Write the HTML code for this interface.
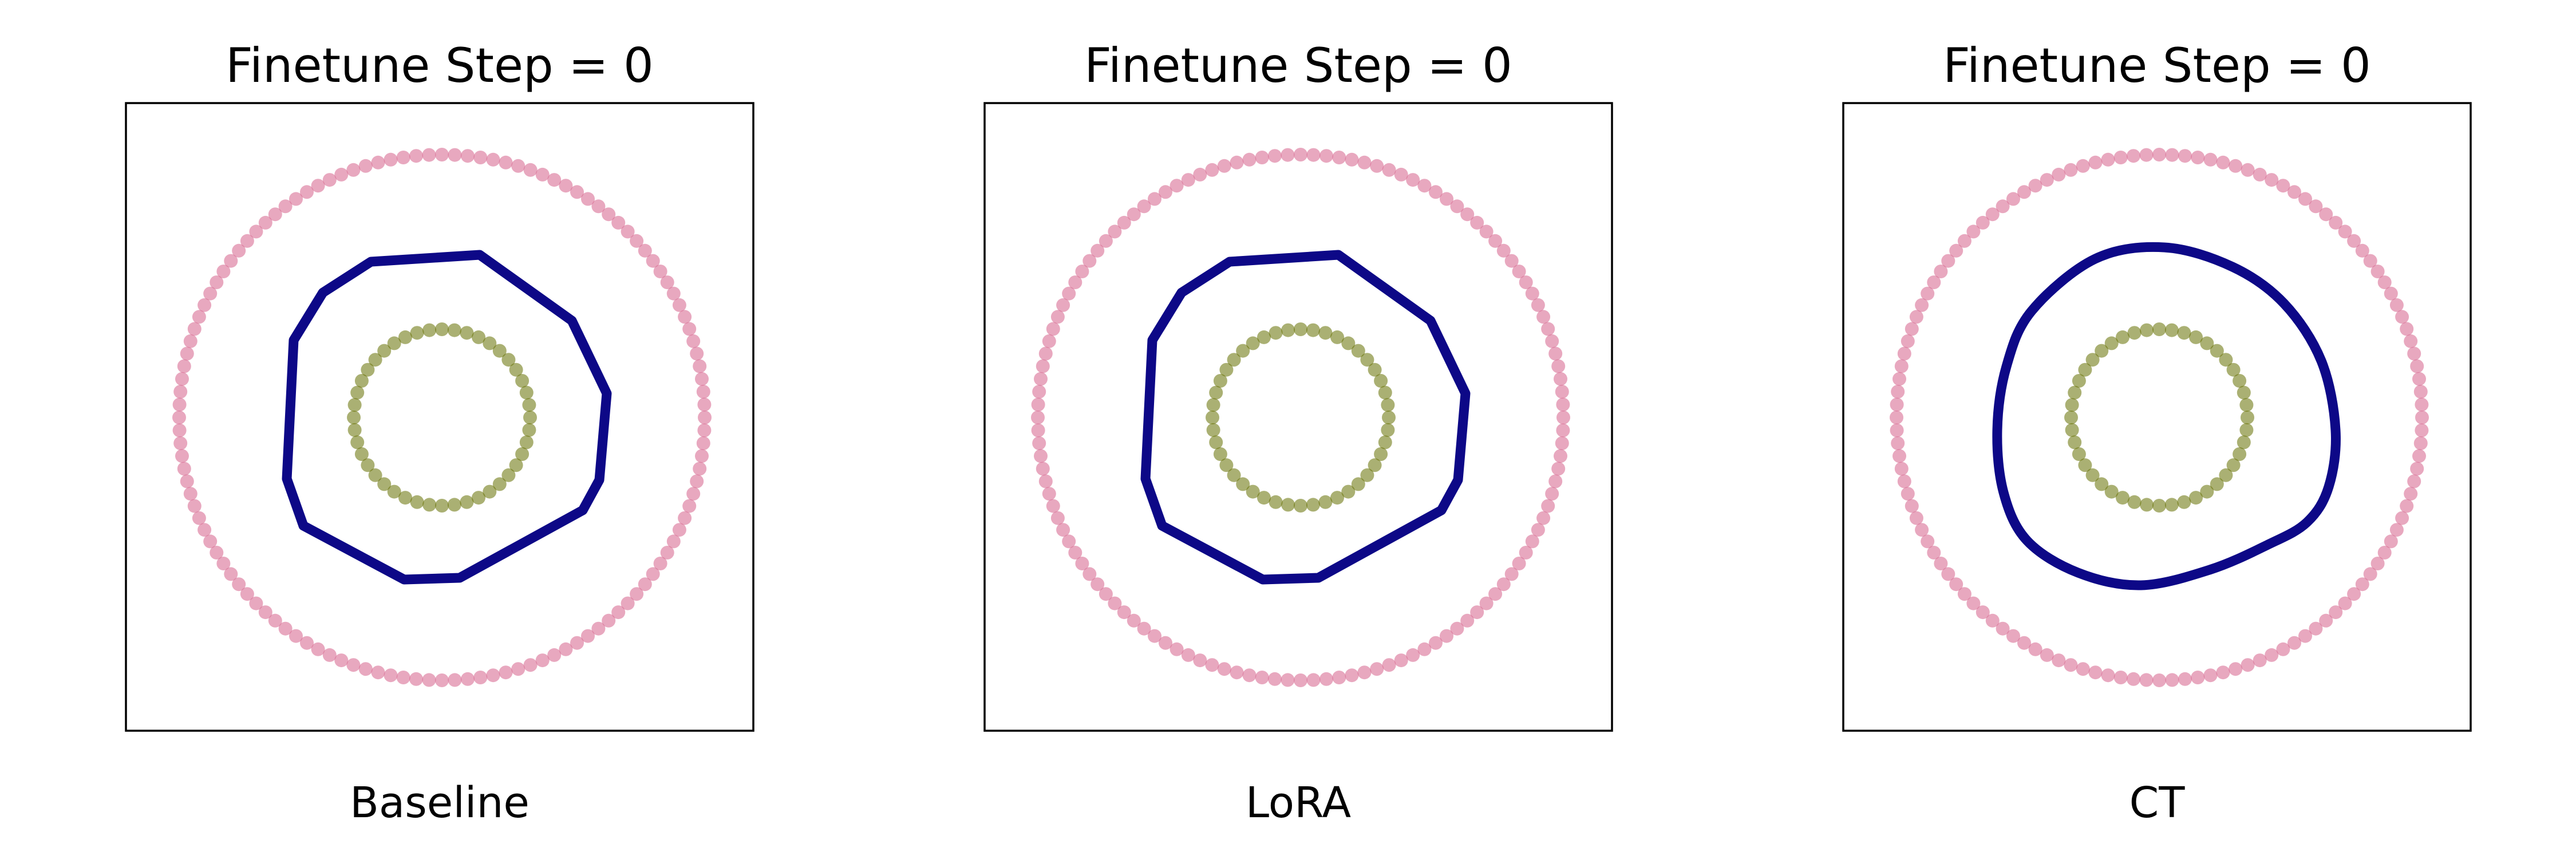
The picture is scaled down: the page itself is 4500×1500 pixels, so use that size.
<!DOCTYPE html>
<html><head><meta charset="utf-8"><style>
html,body{margin:0;padding:0;background:#fff;}
svg{display:block;}
text{font-family:"DejaVu Sans","Liberation Sans",sans-serif;fill:#000;}
</style></head><body>
<svg id="s" width="4500" height="1500" viewBox="0 0 4500 1500" xmlns="http://www.w3.org/2000/svg">
<rect width="4500" height="1500" fill="#fff"/>
<g id="dots"></g>
<rect x="220" y="180" width="1096" height="1096" fill="none" stroke="#000" stroke-width="3.5"/>
<rect x="1720" y="180" width="1096" height="1096" fill="none" stroke="#000" stroke-width="3.5"/>
<rect x="3220" y="180" width="1096" height="1096" fill="none" stroke="#000" stroke-width="3.5"/>
<polygon points="648,457 838,445 999,560 1060,687 1047,838 1018,891 803,1009 706,1012 530,918 501,836 513,594 564,511" fill="none" stroke="#0d0887" stroke-width="17" stroke-linejoin="round"/>
<polygon transform="translate(1500,0)" points="648,457 838,445 999,560 1060,687 1047,838 1018,891 803,1009 706,1012 530,918 501,836 513,594 564,511" fill="none" stroke="#0d0887" stroke-width="17" stroke-linejoin="round"/>
<path id="ct" d="" fill="none" stroke="#0d0887" stroke-width="17"/>
<text x="768" y="143" font-size="83" text-anchor="middle">Finetune Step = 0</text>
<text x="2268" y="143" font-size="83" text-anchor="middle">Finetune Step = 0</text>
<text x="3768" y="143" font-size="83" text-anchor="middle">Finetune Step = 0</text>
<text x="768" y="1427" font-size="74" text-anchor="middle">Baseline</text>
<text x="2268" y="1427" font-size="74" text-anchor="middle">LoRA</text>
<text x="3768" y="1427" font-size="74" text-anchor="middle">CT</text>
</svg>
<script>
(function(){
var g=document.getElementById("dots"),h="";
[0,1500,3000].forEach(function(o){
  var cx=772+o,cy=729;
  var n=128,R=459;
  for(var i=0;i<n;i++){var a=2*Math.PI*i/n;h+='<circle cx="'+(cx+R*Math.cos(a)).toFixed(1)+'" cy="'+(cy+R*Math.sin(a)).toFixed(1)+'" r="12" fill="#d6608b" fill-opacity="0.55"/>';}
  n=44;R=154;
  for(var i=0;i<n;i++){var a=2*Math.PI*i/n;h+='<circle cx="'+(cx+R*Math.cos(a)).toFixed(1)+'" cy="'+(cy+R*Math.sin(a)).toFixed(1)+'" r="12" fill="#646f00" fill-opacity="0.55"/>';}
});
g.innerHTML=h;
var p=[[3781,432],[3900,466],[3990,530],[4055,630],[4080,751],[4068,850],[4030,912],[3960,952],[3860,995],[3740,1022],[3630,1000],[3541,944],[3500,860],[3489,751],[3505,640],[3549,543],[3660,452]];
var n=p.length,d="M"+p[0][0]+","+p[0][1];
for(var i=0;i<n;i++){
  var p0=p[(i-1+n)%n],p1=p[i],p2=p[(i+1)%n],p3=p[(i+2)%n];
  var c1=[p1[0]+(p2[0]-p0[0])/6,p1[1]+(p2[1]-p0[1])/6];
  var c2=[p2[0]-(p3[0]-p1[0])/6,p2[1]-(p3[1]-p1[1])/6];
  d+=" C"+c1[0].toFixed(1)+","+c1[1].toFixed(1)+" "+c2[0].toFixed(1)+","+c2[1].toFixed(1)+" "+p2[0]+","+p2[1];
}
document.getElementById("ct").setAttribute("d",d+"Z");
})();
</script>
</body></html>
